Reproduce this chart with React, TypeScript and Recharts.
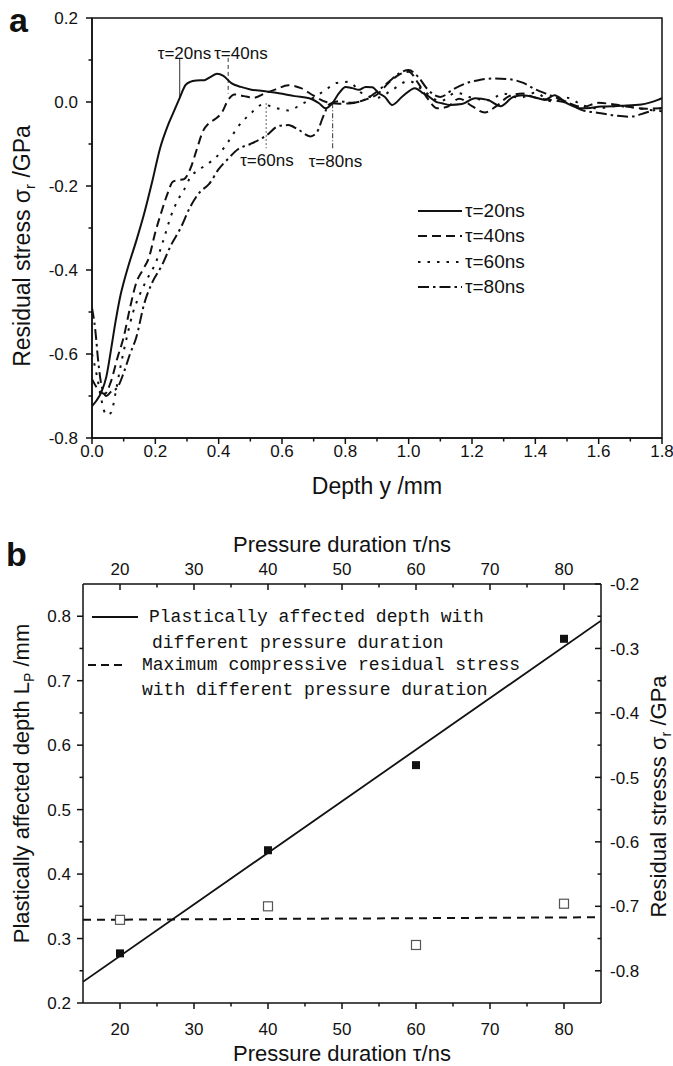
import React from "react";
import {
  LineChart,
  Line,
  XAxis,
  YAxis,
  ReferenceLine,
  ReferenceArea,
  Legend,
  Label,
  ComposedChart,
  Scatter,
} from "recharts";

const FONT = '"Liberation Sans", Arial, Helvetica, sans-serif';
const MONO = '"Liberation Mono", "DejaVu Sans Mono", monospace';
const INK = "#111";

// ---------- panel a: residual stress vs depth ----------
const depth20 = [0, 0.015, 0.03, 0.045, 0.06, 0.075, 0.09, 0.1, 0.115, 0.14, 0.165, 0.19, 0.215, 0.24, 0.26, 0.277, 0.295, 0.31, 0.33, 0.355, 0.375, 0.395, 0.415, 0.44, 0.47, 0.5, 0.54, 0.59, 0.64, 0.686, 0.717, 0.738, 0.759, 0.78, 0.801, 0.822, 0.843, 0.864, 0.885, 0.906, 0.925, 0.948, 0.98, 1.02, 1.045, 1.064, 1.085, 1.105, 1.13, 1.168, 1.21, 1.25, 1.29, 1.33, 1.36, 1.4, 1.43, 1.46, 1.5, 1.546, 1.609, 1.672, 1.735, 1.787, 1.8];
const stress20 = [-0.724, -0.71, -0.69, -0.655, -0.59, -0.52, -0.46, -0.43, -0.39, -0.33, -0.265, -0.19, -0.11, -0.055, -0.02, 0.01, 0.04, 0.048, 0.051, 0.052, 0.06, 0.067, 0.062, 0.045, 0.036, 0.03, 0.026, 0.021, 0.014, 0.009, -0.003, -0.015, -0.003, 0.021, 0.036, 0.033, 0.029, 0.036, 0.035, 0.021, 0.012, -0.007, 0.013, 0.033, 0.021, 0.013, 0.001, -0.003, -0.007, -0.005, 0.009, 0.005, -0.01, 0.012, 0.016, 0.011, 0.005, 0.016, -0.003, -0.015, -0.011, -0.009, -0.006, 0.005, 0.009];

const depth40 = [0, 0.02, 0.04, 0.06, 0.08, 0.1, 0.12, 0.14, 0.16, 0.18, 0.2, 0.22, 0.24, 0.255, 0.27, 0.29, 0.31, 0.33, 0.35, 0.37, 0.39, 0.41, 0.43, 0.45, 0.48, 0.51, 0.55, 0.58, 0.62, 0.66, 0.7, 0.74, 0.78, 0.82, 0.86, 0.9, 0.94, 0.97, 1.0, 1.03, 1.06, 1.09, 1.12, 1.16, 1.2, 1.24, 1.28, 1.32, 1.36, 1.4, 1.45, 1.5, 1.55, 1.6, 1.65, 1.7, 1.75, 1.8];
const stress40 = [-0.66, -0.685, -0.695, -0.665, -0.61, -0.56, -0.49, -0.43, -0.4, -0.37, -0.31, -0.26, -0.215, -0.19, -0.186, -0.184, -0.16, -0.115, -0.07, -0.05, -0.04, -0.025, 0.005, 0.018, 0.014, 0.01, 0.022, 0.03, 0.04, 0.033, 0.015, 0.0, -0.004, -0.003, 0.005, 0.018, 0.048, 0.065, 0.072, 0.045, 0.008, -0.015, -0.012, 0.008, -0.01, -0.025, -0.008, 0.015, 0.02, 0.01, 0.005, -0.002, -0.012, -0.002, -0.006, -0.012, -0.016, -0.015];

const depth60 = [0, 0.015, 0.03, 0.045, 0.06, 0.075, 0.09, 0.11, 0.13, 0.15, 0.175, 0.2, 0.225, 0.25, 0.27, 0.29, 0.31, 0.34, 0.37, 0.4, 0.43, 0.46, 0.5, 0.54, 0.58, 0.62, 0.66, 0.71, 0.74, 0.77, 0.81, 0.85, 0.9, 0.95, 1.0, 1.05, 1.1, 1.15, 1.2, 1.25, 1.3, 1.35, 1.4, 1.45, 1.5, 1.55, 1.6, 1.65, 1.7, 1.75, 1.8];
const stress60 = [-0.6, -0.65, -0.71, -0.745, -0.74, -0.69, -0.63, -0.56, -0.5, -0.46, -0.42, -0.385, -0.33, -0.27, -0.235, -0.21, -0.18, -0.16, -0.145, -0.125, -0.095, -0.06, -0.028, -0.006, -0.014, -0.02, -0.006, 0.015, 0.03, 0.045, 0.048, 0.022, 0.01, 0.03, 0.05, 0.025, 0.002, 0.022, 0.01, 0.004, 0.02, 0.01, 0.022, 0.002, 0.01, -0.008, -0.015, -0.01, -0.012, -0.018, -0.022];

const depth80 = [0, 0.01, 0.02, 0.03, 0.045, 0.06, 0.08, 0.1, 0.12, 0.14, 0.165, 0.19, 0.22, 0.25, 0.28, 0.31, 0.34, 0.37, 0.4, 0.43, 0.46, 0.5, 0.55, 0.59, 0.62, 0.65, 0.69, 0.71, 0.73, 0.75, 0.78, 0.82, 0.86, 0.9, 0.94, 0.97, 1.0, 1.03, 1.06, 1.1, 1.14, 1.18, 1.22, 1.27, 1.32, 1.36, 1.4, 1.45, 1.5, 1.55, 1.6, 1.65, 1.7, 1.75, 1.8];
const stress80 = [-0.49, -0.54, -0.62, -0.675, -0.7, -0.69, -0.68, -0.645, -0.6, -0.56, -0.48, -0.43, -0.39, -0.34, -0.3, -0.25, -0.215, -0.195, -0.16, -0.135, -0.113, -0.1, -0.08, -0.057, -0.055, -0.065, -0.082, -0.072, -0.035, -0.005, 0.002, -0.002, 0.005, 0.025, 0.05, 0.068, 0.076, 0.06, 0.03, 0.012, 0.03, 0.044, 0.052, 0.056, 0.054, 0.046, 0.03, 0.015, 0.0, -0.02, -0.026, -0.032, -0.035, -0.025, -0.014];

const depthTicks = [0, 0.1, 0.2, 0.3, 0.4, 0.5, 0.6, 0.7, 0.8, 0.9, 1.0, 1.1, 1.2, 1.3, 1.4, 1.5, 1.6, 1.7, 1.8];
const stressTicks = [-0.8, -0.7, -0.6, -0.5, -0.4, -0.3, -0.2, -0.1, 0, 0.1, 0.2];

// depth where each curve first reaches zero (marker lines)
const markerDepth = [0.277, 0.43, 0.55, 0.76];

const toPoints = (d: number[], s: number[]) => d.map((x, i) => ({ d: x, s: s[i] }));

const seriesA = [
  { name: "τ=20ns", data: toPoints(depth20, stress20), dash: undefined as string | undefined },
  { name: "τ=40ns", data: toPoints(depth40, stress40), dash: "9 5" },
  { name: "τ=60ns", data: toPoints(depth60, stress60), dash: "2.5 7" },
  { name: "τ=80ns", data: toPoints(depth80, stress80), dash: "11 4 2.5 4" },
];

// ---------- panel b: depth / max stress vs pressure duration ----------
const tau = [20, 40, 60, 80];
const plasticDepth = [0.277, 0.437, 0.569, 0.765];
const maxStress = [-0.721, -0.7, -0.76, -0.696];
const fitTau = [15, 85];
const fitDepth = [0.233, 0.793];
const fitStress = [-0.721, -0.717];

const tauTicks = [20, 25, 30, 35, 40, 45, 50, 55, 60, 65, 70, 75, 80];
const depthAxisTicks = [0.2, 0.25, 0.3, 0.35, 0.4, 0.45, 0.5, 0.55, 0.6, 0.65, 0.7, 0.75, 0.8];
const stressAxisTicks = [-0.8, -0.75, -0.7, -0.65, -0.6, -0.55, -0.5, -0.45, -0.4, -0.35, -0.3, -0.25, -0.2];

const depthPts = tau.map((t, i) => ({ tau: t, lp: plasticDepth[i] }));
const stressPts = tau.map((t, i) => ({ tau: t, s: maxStress[i] }));
const depthFit = fitTau.map((t, i) => ({ tau: t, lp: fitDepth[i] }));
const stressFit = fitTau.map((t, i) => ({ tau: t, s: fitStress[i] }));

// ---------- shared bits ----------
type TickOpts = {
  side: "bottom" | "top" | "left" | "right";
  isMajor: (v: number) => boolean;
  fmt: (v: number) => string;
  major: number;
  minor: number;
  offset: number;
  size: number;
  inward?: boolean;
};

// tickSize/tickMargin are 0, so x/y arrive on the axis line
function axisTick(o: TickOpts) {
  return (p: any) => {
    const { x, y, payload } = p;
    const v = payload.value;
    const big = o.isMajor(v);
    const len = (big ? o.major : o.minor) * (o.inward ? -1 : 1);
    const txt = { fontFamily: FONT, fontSize: o.size, fill: INK };
    if (o.side === "bottom" || o.side === "top") {
      const dir = o.side === "bottom" ? 1 : -1;
      return (
        <g>
          <line x1={x} y1={y} x2={x} y2={y + dir * len} stroke={INK} strokeWidth={1.5} />
          {big && (
            <text x={x} y={y + dir * o.offset} dy="0.36em" textAnchor="middle" {...txt}>
              {o.fmt(v)}
            </text>
          )}
        </g>
      );
    }
    const dir = o.side === "right" ? 1 : -1;
    return (
      <g>
        <line x1={x} y1={y} x2={x + dir * len} y2={y} stroke={INK} strokeWidth={1.5} />
        {big && (
          <text x={x + dir * o.offset} y={y} dy="0.36em" textAnchor={dir > 0 ? "start" : "end"} {...txt}>
            {o.fmt(v)}
          </text>
        )}
      </g>
    );
  };
}

const even10 = (v: number) => Math.abs(Math.round(v * 10)) % 2 === 0;
const tenth = (v: number) => Math.abs(Math.round(v * 100)) % 10 === 0;

const AnnoText = (p: any) => {
  const vb = p.viewBox;
  if (!vb) return null;
  const y = p.fromBottom ? vb.y + vb.height + p.dy : vb.y + p.dy;
  return (
    <text x={vb.x + p.dx} y={y} fontFamily={FONT} fontSize={17} fill={INK}>
      {p.text}
    </text>
  );
};

const LegendA = () => (
  <div style={{ fontFamily: FONT, fontSize: 19, color: INK }}>
    {seriesA.map((s) => (
      <div key={s.name} style={{ display: "flex", alignItems: "center", height: 25.5 }}>
        <svg width={44} height={10}>
          <line x1={0} y1={5} x2={44} y2={5} stroke={INK} strokeWidth={2} strokeDasharray={s.dash} />
        </svg>
        <span style={{ marginLeft: 3, lineHeight: "20px" }}>{s.name}</span>
      </div>
    ))}
  </div>
);

const legendRowsB = [
  { text: "Plastically affected depth with", left: 63, y: 14, dash: undefined as string | undefined, sample: [6, 52] },
  { text: "different pressure duration", left: 66, y: 40, dash: undefined, sample: null },
  { text: "Maximum compressive residual stress", left: 56, y: 62, dash: "8 5", sample: [2, 40] },
  { text: "with different pressure duration", left: 56, y: 87, dash: undefined, sample: null },
];

const LegendB = () => (
  <div style={{ position: "relative", width: 470, height: 100, fontFamily: MONO, fontSize: 18, color: INK }}>
    {legendRowsB.map((r) => (
      <React.Fragment key={r.text}>
        {r.sample && (
          <svg style={{ position: "absolute", left: 0, top: r.y - 5 }} width={60} height={10}>
            <line x1={r.sample[0]} y1={5} x2={r.sample[1]} y2={5} stroke={INK} strokeWidth={2} strokeDasharray={r.dash} />
          </svg>
        )}
        <div style={{ position: "absolute", left: r.left, top: r.y - 11, lineHeight: "22px", whiteSpace: "pre" }}>{r.text}</div>
      </React.Fragment>
    ))}
  </div>
);

const FilledSquare = (p: any) => <rect x={p.cx - 4} y={p.cy - 4} width={8} height={8} fill={INK} />;
const OpenSquare = (p: any) => (
  <rect x={p.cx - 4.5} y={p.cy - 4.5} width={9} height={9} fill="#fff" stroke="#555" strokeWidth={1.2} />
);

const titleStyle = { fontFamily: FONT, fill: INK };

const SigmaTitle = ({ cx, cy, size, text }: { cx: number; cy: number; size: number; text: string }) => (
  <text x={cx} y={cy} dy="0.36em" textAnchor="middle" transform={`rotate(-90, ${cx}, ${cy})`} fontSize={size} {...titleStyle}>
    {text}σ
    <tspan dy={5} fontSize={size * 0.65}>r</tspan>
    <tspan dy={-5}> /GPa</tspan>
  </text>
);

const letter = (left: number, top: number) => ({
  position: "absolute" as const,
  left,
  top,
  fontFamily: FONT,
  fontWeight: 700,
  fontSize: 34,
  lineHeight: "34px",
  color: INK,
});

export default function App() {
  return (
    <div style={{ position: "absolute", left: 0, top: 0, width: 673, height: 1066, background: "#fff" }}>
      <div style={{ position: "absolute", left: 0, top: 0 }}>
        <LineChart width={673} height={510} margin={{ top: 18, right: 11, bottom: 12, left: 22 }}>
          <XAxis
            dataKey="d"
            type="number"
            domain={[0, 1.8]}
            ticks={depthTicks}
            interval={0}
            allowDataOverflow
            height={60}
            tickSize={0}
            tickMargin={0}
            tickLine={false}
            axisLine={{ stroke: INK, strokeWidth: 1.5 }}
            tick={axisTick({ side: "bottom", isMajor: even10, fmt: (v) => v.toFixed(1), major: 6, minor: 3.5, offset: 13, size: 17 })}
          >
            <Label
              content={(p: any) => {
                const vb = p.viewBox;
                const cx = vb.x + vb.width / 2;
                return (
                  <text x={cx} y={vb.y + 48} dy="0.36em" textAnchor="middle" fontSize={23} {...titleStyle}>
                    Depth y /mm
                  </text>
                );
              }}
            />
          </XAxis>
          <YAxis
            type="number"
            domain={[-0.8, 0.2]}
            ticks={stressTicks}
            interval={0}
            allowDataOverflow
            width={70}
            tickSize={0}
            tickMargin={0}
            tickLine={false}
            axisLine={{ stroke: INK, strokeWidth: 1.5 }}
            tick={axisTick({ side: "left", isMajor: even10, fmt: (v) => v.toFixed(1), major: 6, minor: 3.5, offset: 14, size: 17 })}
          >
            <Label
              content={(p: any) => {
                const vb = p.viewBox;
                return <SigmaTitle cx={vb.x} cy={vb.y + vb.height / 2 + 18} size={23} text="Residual stress " />;
              }}
            />
          </YAxis>
          <ReferenceArea x1={0} x2={1.8} y1={-0.8} y2={0.2} fill="none" stroke={INK} strokeWidth={1.5} ifOverflow="visible" />

          <ReferenceLine
            segment={[{ x: markerDepth[0], y: 0.105 }, { x: markerDepth[0], y: 0.012 }]}
            stroke="#333"
            strokeWidth={1}
            ifOverflow="visible"
            label={<AnnoText text="τ=20ns" dx={-22} dy={1} />}
          />
          <ReferenceLine
            segment={[{ x: markerDepth[1], y: 0.105 }, { x: markerDepth[1], y: 0.02 }]}
            stroke="#333"
            strokeWidth={1}
            strokeDasharray="4 3"
            ifOverflow="visible"
            label={<AnnoText text="τ=40ns" dx={-14} dy={1} />}
          />
          <ReferenceLine
            segment={[{ x: markerDepth[2], y: -0.003 }, { x: markerDepth[2], y: -0.11 }]}
            stroke="#333"
            strokeWidth={1}
            strokeDasharray="1.5 2.5"
            ifOverflow="visible"
            label={<AnnoText text="τ=60ns" dx={-26} dy={18} fromBottom />}
          />
          <ReferenceLine
            segment={[{ x: markerDepth[3], y: -0.003 }, { x: markerDepth[3], y: -0.114 }]}
            stroke="#333"
            strokeWidth={1}
            strokeDasharray="5 2 1 2"
            ifOverflow="visible"
            label={<AnnoText text="τ=80ns" dx={-24} dy={17} fromBottom />}
          />

          {seriesA.map((s) => (
            <Line
              key={s.name}
              data={s.data}
              dataKey="s"
              name={s.name}
              type="monotone"
              stroke={INK}
              strokeWidth={2}
              strokeDasharray={s.dash}
              dot={false}
              activeDot={false}
              isAnimationActive={false}
            />
          ))}
          <Legend
            layout="vertical"
            align="center"
            verticalAlign="middle"
            content={() => <LegendA />}
            wrapperStyle={{ position: "absolute", left: 418, top: 198, width: "auto", height: "auto" }}
          />
        </LineChart>
      </div>

      <div style={{ position: "absolute", left: 0, top: 500 }}>
        <ComposedChart width={673} height={566} margin={{ top: 44, right: 22, bottom: 23, left: 23 }}>
          <XAxis
            dataKey="tau"
            type="number"
            domain={[15, 85]}
            ticks={tauTicks}
            interval={0}
            allowDataOverflow
            height={40}
            tickSize={0}
            tickMargin={0}
            tickLine={false}
            axisLine={{ stroke: INK, strokeWidth: 1.5 }}
            tick={axisTick({ side: "bottom", isMajor: (v) => v % 10 === 0, fmt: (v) => String(v), major: 6, minor: 3.5, offset: 26, size: 17 })}
          >
            <Label
              content={(p: any) => {
                const vb = p.viewBox;
                return (
                  <text x={vb.x + vb.width / 2} y={vb.y + 50} dy="0.36em" textAnchor="middle" fontSize={22} {...titleStyle}>
                    Pressure duration τ/ns
                  </text>
                );
              }}
            />
          </XAxis>
          <XAxis
            xAxisId="top"
            orientation="top"
            dataKey="tau"
            type="number"
            domain={[15, 85]}
            ticks={tauTicks}
            interval={0}
            allowDataOverflow
            height={40}
            tickSize={0}
            tickMargin={0}
            tickLine={false}
            axisLine={{ stroke: INK, strokeWidth: 1.5 }}
            tick={axisTick({ side: "top", isMajor: (v) => v % 10 === 0, fmt: (v) => String(v), major: 6, minor: 3.5, offset: 15, size: 17, inward: true })}
          >
            <Label
              content={(p: any) => {
                const vb = p.viewBox;
                return (
                  <text x={vb.x + vb.width / 2} y={vb.y + vb.height - 40} dy="0.36em" textAnchor="middle" fontSize={22} {...titleStyle}>
                    Pressure duration τ/ns
                  </text>
                );
              }}
            />
          </XAxis>
          <YAxis
            type="number"
            domain={[0.2, 0.85]}
            ticks={depthAxisTicks}
            interval={0}
            allowDataOverflow
            width={60}
            tickSize={0}
            tickMargin={0}
            tickLine={false}
            axisLine={{ stroke: INK, strokeWidth: 1.5 }}
            tick={axisTick({ side: "left", isMajor: tenth, fmt: (v) => v.toFixed(1), major: 6, minor: 3.5, offset: 12, size: 17 })}
          >
            <Label
              content={(p: any) => {
                const vb = p.viewBox;
                const cx = vb.x - 2;
                const cy = vb.y + vb.height / 2 - 10;
                return (
                  <text x={cx} y={cy} dy="0.36em" textAnchor="middle" transform={`rotate(-90, ${cx}, ${cy})`} fontSize={22} {...titleStyle}>
                    Plastically affected depth L
                    <tspan dy={5} fontSize={14}>P</tspan>
                    <tspan dy={-5}> /mm</tspan>
                  </text>
                );
              }}
            />
          </YAxis>
          <YAxis
            yAxisId="right"
            orientation="right"
            type="number"
            domain={[-0.85, -0.2]}
            ticks={stressAxisTicks}
            interval={0}
            allowDataOverflow
            width={50}
            tickSize={0}
            tickMargin={0}
            tickLine={false}
            axisLine={{ stroke: INK, strokeWidth: 1.5 }}
            tick={axisTick({ side: "right", isMajor: tenth, fmt: (v) => v.toFixed(1), major: 6, minor: 3.5, offset: 9, size: 17, inward: true })}
          >
            <Label
              content={(p: any) => {
                const vb = p.viewBox;
                return <SigmaTitle cx={vb.x + 57} cy={vb.y + vb.height / 2 + 3} size={22} text="Residual stresss " />;
              }}
            />
          </YAxis>

          <Line data={depthFit} dataKey="lp" type="linear" stroke={INK} strokeWidth={1.8} dot={false} activeDot={false} isAnimationActive={false} />
          <Line
            data={stressFit}
            dataKey="s"
            xAxisId="top"
            yAxisId="right"
            type="linear"
            stroke={INK}
            strokeWidth={2}
            strokeDasharray="8 6"
            dot={false}
            activeDot={false}
            isAnimationActive={false}
          />
          <Scatter data={depthPts} dataKey="lp" shape={FilledSquare} isAnimationActive={false} />
          <Scatter data={stressPts} dataKey="s" xAxisId="top" yAxisId="right" shape={OpenSquare} isAnimationActive={false} />
          <Legend
            layout="vertical"
            align="center"
            verticalAlign="middle"
            content={() => <LegendB />}
            wrapperStyle={{ position: "absolute", left: 86, top: 103, width: "auto", height: "auto" }}
          />
        </ComposedChart>
      </div>

      <div style={letter(9, 3)}>a</div>
      <div style={letter(6, 537)}>b</div>
    </div>
  );
}
